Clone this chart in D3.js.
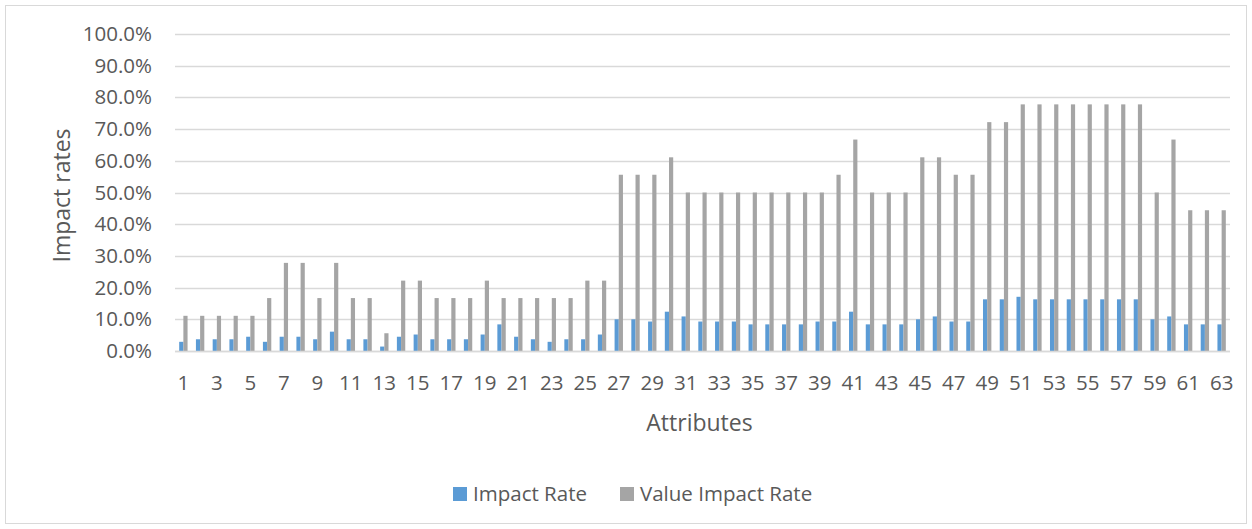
<!DOCTYPE html>
<html>
<head>
<meta charset="utf-8">
<script src="https://cdn.jsdelivr.net/npm/d3@7"></script>
<style>
  html, body { margin: 0; padding: 0; background: #fff; }
  svg { display: block; font-family: "Open Sans", "Liberation Sans", sans-serif; }
</style>
</head>
<body>
<svg id="chart" width="1252" height="529"></svg>
<script>
// Attribute numbers 1..63
const attributes = [
  1,2,3,4,5,6,7,8,9,10,11,12,13,14,15,16,17,18,19,20,21,
  22,23,24,25,26,27,28,29,30,31,32,33,34,35,36,37,38,39,40,41,42,
  43,44,45,46,47,48,49,50,51,52,53,54,55,56,57,58,59,60,61,62,63
];

// Impact Rate per attribute (fraction)
const impactRate = [
  0.029,0.037,0.037,0.037,0.045,0.029,0.045,0.045,0.037,0.061,0.037,0.037,0.014,0.045,0.052,0.037,0.037,0.037,0.052,0.084,0.045,
  0.037,0.029,0.037,0.037,0.052,0.100,0.100,0.093,0.124,0.109,0.093,0.093,0.093,0.084,0.084,0.084,0.084,0.093,0.093,0.124,0.084,
  0.084,0.084,0.100,0.109,0.093,0.093,0.163,0.163,0.171,0.163,0.163,0.163,0.163,0.163,0.163,0.163,0.100,0.109,0.084,0.084,0.084
];

// Value Impact Rate per attribute (fraction)
const valueImpactRate = [
  0.111,0.111,0.111,0.111,0.111,0.167,0.278,0.278,0.167,0.278,0.167,0.167,0.056,0.222,0.222,0.167,0.167,0.167,0.222,0.167,0.167,
  0.167,0.167,0.167,0.222,0.222,0.556,0.556,0.556,0.611,0.500,0.500,0.500,0.500,0.500,0.500,0.500,0.500,0.500,0.556,0.667,0.500,
  0.500,0.500,0.611,0.611,0.556,0.556,0.722,0.722,0.778,0.778,0.778,0.778,0.778,0.778,0.778,0.778,0.500,0.667,0.444,0.444,0.444
];

const seriesNames = ["Impact Rate", "Value Impact Rate"];
const seriesColors = ["#5b9bd5", "#a5a5a5"];
const yTicks = [0,0.1,0.2,0.3,0.4,0.5,0.6,0.7,0.8,0.9,1.0];

const svg = d3.select("#chart");
const W = 1252, H = 529;
const plot = { left: 175, right: 1230, top: 34, bottom: 351 };
const textColor = "#595959";
const gridColor = "#d9d9d9";
const tickFont = 20.5;
const titleFont = 23;

// Outer chart frame
svg.append("rect")
  .attr("x", 5.5).attr("y", 5.5)
  .attr("width", W - 11).attr("height", H - 11)
  .attr("fill", "#fff").attr("stroke", gridColor).attr("stroke-width", 1);

const x = d3.scaleBand()
  .domain(attributes)
  .range([plot.left, plot.right])
  .paddingInner(0.5)
  .paddingOuter(0.25);

const xSeries = d3.scaleBand()
  .domain(seriesNames)
  .range([0, x.bandwidth()]);

const y = d3.scaleLinear().domain([0, 1]).range([plot.bottom, plot.top]);

// Horizontal gridlines
svg.append("g")
  .selectAll("line")
  .data(yTicks)
  .join("line")
  .attr("x1", plot.left).attr("x2", plot.right)
  .attr("y1", d => Math.round(y(d)) + 0.5).attr("y2", d => Math.round(y(d)) + 0.5)
  .attr("stroke", gridColor).attr("stroke-width", 1.3);

// Y axis labels
const yAxis = d3.axisLeft(y).tickValues(yTicks).tickFormat(d3.format(".1%")).tickSize(0).tickPadding(0);
const gy = svg.append("g").attr("transform", `translate(152,0)`).call(yAxis);
gy.select(".domain").remove();
gy.selectAll("text").attr("fill", textColor).attr("font-size", tickFont)
  .attr("font-family", "'Open Sans', sans-serif");

// Bars
const rows = attributes.map((a, i) => ({ a, values: [impactRate[i], valueImpactRate[i]] }));
const groups = svg.append("g")
  .selectAll("g")
  .data(rows)
  .join("g")
  .attr("transform", d => `translate(${x(d.a)},0)`);

groups.selectAll("rect")
  .data(d => d.values.map((v, k) => ({ v, k })))
  .join("rect")
  .attr("x", d => xSeries(seriesNames[d.k]))
  .attr("width", xSeries.bandwidth())
  .attr("y", d => y(d.v))
  .attr("height", d => y(0) - y(d.v))
  .attr("fill", d => seriesColors[d.k]);

// Baseline
svg.append("line")
  .attr("x1", plot.left).attr("x2", plot.right)
  .attr("y1", Math.round(y(0)) + 0.5).attr("y2", Math.round(y(0)) + 0.5)
  .attr("stroke", gridColor).attr("stroke-width", 1.5);

// X axis labels (every second attribute)
const xAxis = d3.axisBottom(x)
  .tickValues(attributes.filter(a => a % 2 === 1))
  .tickSize(0).tickPadding(0);
const gx = svg.append("g").attr("transform", `translate(0,${plot.bottom})`).call(xAxis);
gx.select(".domain").remove();
gx.selectAll("text")
  .attr("fill", textColor).attr("font-size", tickFont)
  .attr("font-family", "'Open Sans', sans-serif")
  .attr("dy", null)
  .attr("y", 39);

// Axis titles
svg.append("text")
  .attr("x", (plot.left + plot.right) / 2 - 3).attr("y", 431)
  .attr("text-anchor", "middle")
  .attr("fill", textColor).attr("font-size", titleFont)
  .text("Attributes");

svg.append("text")
  .attr("transform", `translate(70,${(plot.top + plot.bottom) / 2 + 3}) rotate(-90)`)
  .attr("text-anchor", "middle")
  .attr("fill", textColor).attr("font-size", titleFont)
  .text("Impact rates");

// Legend
const legendItems = [
  { name: seriesNames[0], color: seriesColors[0], x: 453 },
  { name: seriesNames[1], color: seriesColors[1], x: 620 }
];
const lg = svg.append("g").selectAll("g").data(legendItems).join("g")
  .attr("transform", d => `translate(${d.x},487)`);
lg.append("rect").attr("width", 14).attr("height", 14).attr("fill", d => d.color);
lg.append("text")
  .attr("x", 20).attr("y", 14)
  .attr("fill", textColor).attr("font-size", tickFont)
  .text(d => d.name);
</script>
</body>
</html>
